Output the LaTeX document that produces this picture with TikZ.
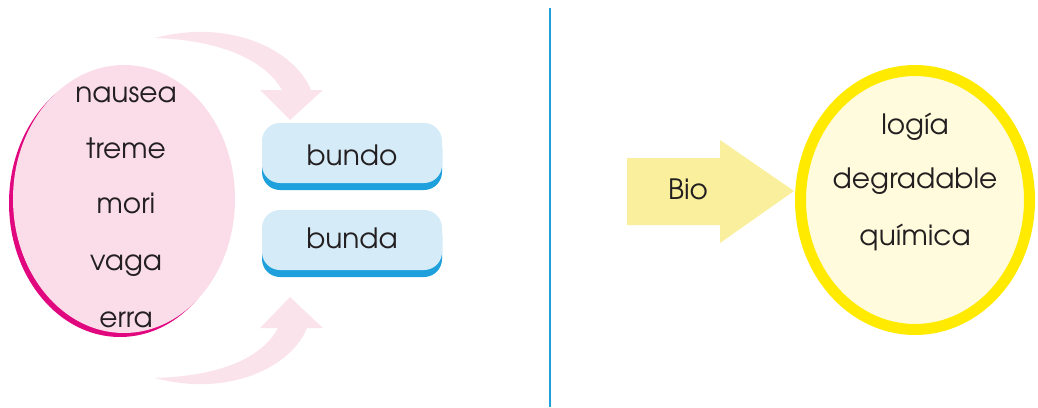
\documentclass[tikz,border=0pt]{standalone}
\usepackage{fontspec}
\setmainfont{TeX Gyre Adventor}
\usepackage{tikz}
\usetikzlibrary{positioning,shapes.geometric}

\definecolor{rosa}{HTML}{FADDE8}
\definecolor{rosaclaro}{HTML}{FBE3EC}
\definecolor{fucsia}{HTML}{E0077F}
\definecolor{celeste}{HTML}{D5EBF8}
\definecolor{azul}{HTML}{1EA0DC}
\definecolor{amarillo}{HTML}{FFEA00}
\definecolor{crema}{HTML}{FFFBDC}
\definecolor{flecha}{HTML}{F9EF9C}
\definecolor{texto}{HTML}{231F20}

\begin{document}
\begin{tikzpicture}[x=1pt, y=-1pt,
  word/.style={font=\fontsize{28}{32}\selectfont, text=texto, anchor=base, inner sep=0pt},
  oval/.style={ellipse, fill=rosa, minimum width=222pt, minimum height=268pt,
               preaction={fill=fucsia, transform canvas={xshift=-4pt, yshift=-4pt}}},
  pill/.style={fill=celeste, rounded corners=18pt, minimum width=180pt, minimum height=60pt,
               preaction={fill=azul, transform canvas={yshift=-7pt}}},
  ring/.style={ellipse, draw=amarillo, line width=11pt, fill=crema,
               minimum width=229pt, minimum height=259pt}]
\useasboundingbox (0,0) rectangle (1038,407);

% left part
\fill[rosaclaro] (155,38) .. controls (230,18) and (295,50) .. (311,90)
  -- (323,90) -- (290,120) -- (260,90) -- (282,90)
  .. controls (265,60) and (220,40) .. cycle;
\fill[rosaclaro] (155,378) .. controls (230,398) and (292,366) .. (307,328)
  -- (323,328) -- (290,297) -- (260,328) -- (278,328)
  .. controls (262,358) and (220,376) .. cycle;

\node[oval] (raices) at (124,199) {};
\foreach \w/\y in {nausea/102,treme/158,mori/213,vaga/270,erra/327}
  \node[word] (\w) at (126,\y) {\w};

\node[pill] (bundo) at (352,153) {};
\node[pill] (bunda) at (352,240) {};
\node[word] at (352,165) {bundo};
\node[word] at (352,248) {bunda};

\draw[azul, line width=1.6pt] (550,8) -- (550,407);

% right part
\fill[flecha] (627,158) -- (720,158) -- (720,140) -- (794,191)
  -- (720,243) -- (720,225) -- (627,225) -- cycle;
\node[word] (bio) at (688,199) {Bio};

\node[ring] (sufijos) at (915,200) {};
\foreach \w/\y in {logía/134,degradable/188,química/245}
  \node[word] at (915,\y) {\w};
\end{tikzpicture}
\end{document}
